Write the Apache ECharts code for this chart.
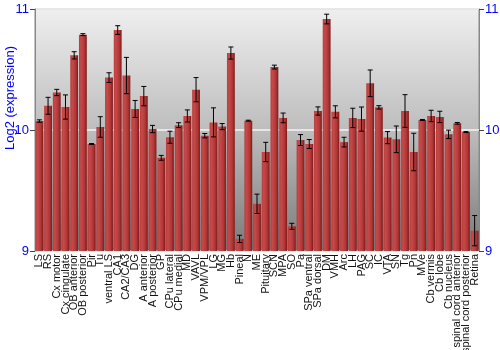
<!DOCTYPE html>
<html><head><meta charset="utf-8">
<script src="https://cdn.jsdelivr.net/npm/echarts@6/dist/echarts.min.js"></script>
<style>html,body{margin:0;padding:0;background:#fff}#c{width:500px;height:350px}</style>
</head><body><div id="c"></div>
<script>
var categories = ["LS","RS","Cx motor","Cx cingulate","OB anterior","OB posterior","Pir","Tu","ventral LS","CA1","CA2/CA3","DG","A anterior","A posterior","GP","CPu lateral","CPu medial","MD","VAVL","VPM/VPL","LG","MG","Hb","Pineal","N","ME","Pituitary","SCN","MPA","SO","Pa","SPa ventral","SPa dorsal","DM","VMH","Arc","LH","PAG","SC","IC","VTA","SN","Tg","Pn","MVe","Cb vermis","Cb lobe","Cb nucleus","spinal cord anterior","spinal cord posterior","Retina"];
var values = [10.074,10.20,10.31,10.19,10.617,10.788,9.884,10.025,10.433,10.826,10.45,10.174,10.28,10.008,9.77,9.94,10.04,10.116,10.333,9.953,10.063,10.028,10.636,9.10,10.077,9.39,9.818,10.52,10.10,9.204,9.917,9.884,10.157,10.917,10.15,9.90,10.10,10.09,10.386,10.187,9.937,9.923,10.157,9.818,10.083,10.116,10.108,9.964,10.055,9.983,9.168];
var errors = [0.01,0.07,0.026,0.10,0.03,0.008,0.004,0.085,0.04,0.036,0.15,0.07,0.08,0.03,0.02,0.05,0.02,0.05,0.1,0.018,0.12,0.025,0.05,0.03,0.004,0.08,0.08,0.016,0.04,0.025,0.045,0.037,0.034,0.04,0.05,0.04,0.08,0.1,0.11,0.014,0.05,0.11,0.135,0.155,0.004,0.047,0.047,0.035,0.007,0.004,0.125];
var yTicks = [9, 10, 11];
var yName = "Log2 (expression)";

var chart = echarts.init(document.getElementById('c'), null, {renderer:'canvas'});
var errData = values.map(function(v,i){ return [i, v - errors[i], v + errors[i]]; });
var yAxisBase = function(pos){
  return {
    type:'value', min:yTicks[0], max:yTicks[yTicks.length-1], interval:1, position:pos,
    axisLine:{show:true, lineStyle:{color:'#888', width:1}},
    axisTick:{show:true, length:5, lineStyle:{color:'#444'}},
    axisLabel:{color:'#0000ff', fontSize:13, fontFamily:'Liberation Sans, Arial', margin:6},
    splitLine:{show: pos==='left', lineStyle:{color:'#f4f4f4', width:1.5}}
  };
};
chart.setOption({
  animation:false,
  grid:{left:35, right:21, top:9, bottom:99, show:true, borderColor:'#888', borderWidth:1,
    containLabel:false, outerBoundsMode:'none',
    backgroundColor: new echarts.graphic.LinearGradient(0,0,0,1,[
      {offset:0,color:'#efefef'},{offset:0.5,color:'#bdbdbd'},{offset:1,color:'#7a7a7a'}])},
  xAxis:{type:'category', data:categories, boundaryGap:true,
    axisLine:{show:false}, axisTick:{show:false},
    axisLabel:{rotate:90, interval:0, fontSize:11, color:'#111', fontFamily:'Liberation Sans, Arial', margin:3}},
  yAxis:[yAxisBase('left'), yAxisBase('right')],
  graphic:[{type:'text', rotation:Math.PI/2, x:4, y:98,
    style:{text:yName, fill:'#0000ff', font:'13px Liberation Sans, Arial', textAlign:'center', textVerticalAlign:'top'}}],
  series:[
    {type:'bar', data:values, barCategoryGap:'10%', yAxisIndex:0,
      itemStyle:{color:new echarts.graphic.LinearGradient(0,0,1,0,[
        {offset:0,color:'#b83c3c'},{offset:0.25,color:'#c64a4a'},{offset:0.7,color:'#b03535'},{offset:1,color:'#7a1a1a'}])}},
    {type:'custom', yAxisIndex:0, data:errData, z:10,
      renderItem:function(params, api){
        var x = api.value(0);
        var lo = api.coord([x, api.value(1)]);
        var hi = api.coord([x, api.value(2)]);
        var hw = 2.5;
        var st = {stroke:'#000', lineWidth:1};
        return {type:'group', children:[
          {type:'line', shape:{x1:lo[0],y1:lo[1],x2:hi[0],y2:hi[1]}, style:st},
          {type:'line', shape:{x1:lo[0]-hw,y1:lo[1],x2:lo[0]+hw,y2:lo[1]}, style:st},
          {type:'line', shape:{x1:hi[0]-hw,y1:hi[1],x2:hi[0]+hw,y2:hi[1]}, style:st}
        ]};
      }}
  ]
});
</script></body></html>
